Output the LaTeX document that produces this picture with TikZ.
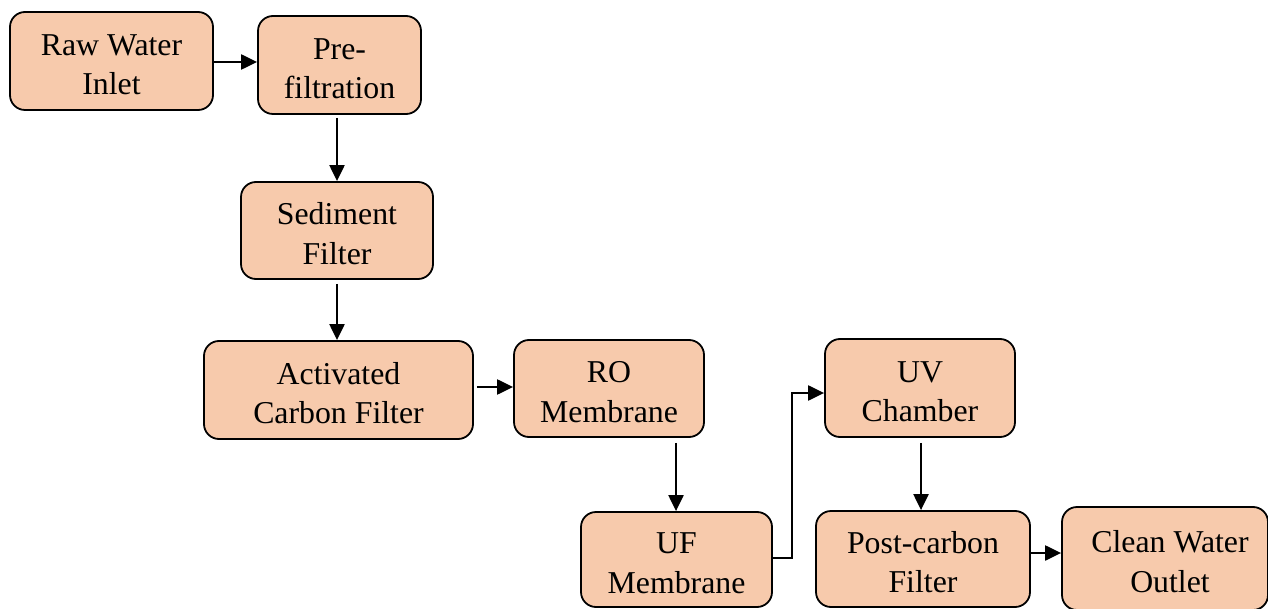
\documentclass[tikz,border=0pt]{standalone}
\usepackage{fontspec}
\setmainfont{Liberation Serif}
\usetikzlibrary{arrows.meta}
\definecolor{peach}{HTML}{F7CAAC}
\newcommand{\tallstrut}{\rule{0pt}{28pt}}
\tikzset{
  stage/.style={draw=black, line width=1.8pt, fill=peach, rounded corners=15pt,
    inner sep=0pt, align=center, minimum height=98pt,
    font=\fontsize{31.8}{39.5}\selectfont},
  flow/.style={draw=black, line width=2.2pt, -{Triangle[length=16pt,width=15pt]}}
}
\begin{document}
\begin{tikzpicture}[x=1pt,y=-1pt]
\useasboundingbox (0,0) rectangle (1268,609);
\clip (0,0) rectangle (1268,609);
\node[stage, minimum width=203pt] (raw) at (111.5,61) {\tallstrut Raw Water\\Inlet};
\node[stage, minimum width=163pt] (pre) at (339.5,65) {\tallstrut Pre-\\filtration};
\node[stage, minimum width=192pt, minimum height=97pt] (sed) at (337,230.5) {\tallstrut Sediment\\Filter};
\node[stage, minimum width=269pt] (act) at (338.5,390) {\tallstrut Activated\\Carbon Filter};
\node[stage, minimum width=190pt, minimum height=97pt] (ro) at (609,388.5) {\tallstrut RO\\Membrane};
\node[stage, minimum width=191pt, minimum height=95pt] (uf) at (676.5,559.5) {\tallstrut UF\\Membrane};
\node[stage, minimum width=190pt] (uv) at (920,388) {\tallstrut UV\\Chamber};
\node[stage, minimum width=214pt, minimum height=96pt] (post) at (923,559) {\tallstrut Post-carbon\\Filter};
\node[stage, minimum width=206pt, minimum height=103pt] (clean) at (1165,558.5) {\tallstrut\hspace*{10pt}Clean Water\\\hspace*{10pt}Outlet};
\coordinate (bend1) at (792,558);
\coordinate (bend2) at (792,393);
\draw[flow] (raw.east |- 0,62) -- (pre.west |- 0,62);
\draw[flow] (pre.south -| 337,0) ++(0,3) -- (sed.north -| 337,0);
\draw[flow] (sed.south -| 337,0) ++(0,4) -- (act.north -| 337,0);
\draw[flow] (act.east |- 0,387) ++(3,0) -- (ro.west |- 0,387);
\draw[flow] (ro.south -| 676,0) ++(0,5) -- (uf.north -| 676,0);
\draw[flow] (uf.east |- bend1) -- (bend1) -- (bend2) -- (uv.west |- bend2);
\draw[flow] (uv.south -| 921,0) ++(0,5) -- (post.north -| 921,0);
\draw[flow] (post.east |- 0,553) -- (clean.west |- 0,553);
\end{tikzpicture}
\end{document}
